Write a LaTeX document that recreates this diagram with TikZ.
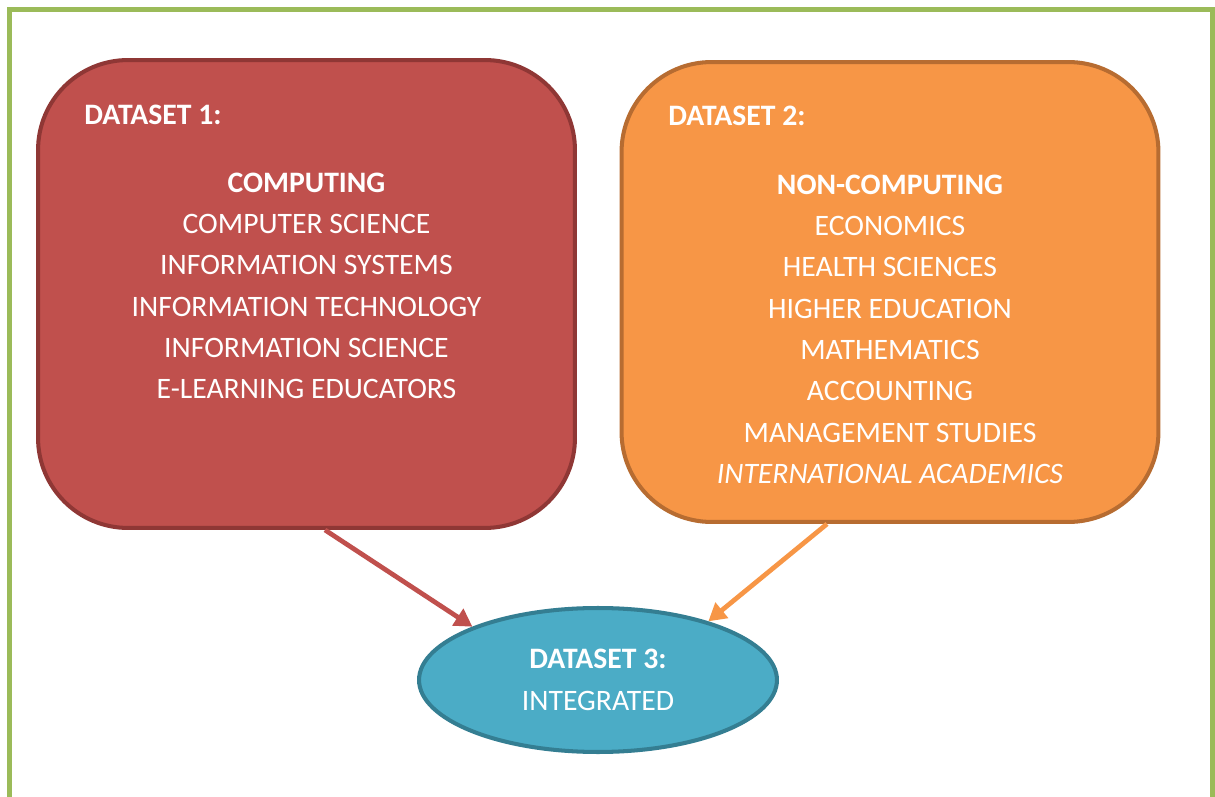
\documentclass[tikz,border=0pt]{standalone}
\usepackage{fontspec}
\setmainfont{Carlito}
\usepackage{tikz}
\usetikzlibrary{arrows.meta,shapes,positioning}
\usepackage{xcolor}
\definecolor{dsframe}{RGB}{155,187,89}
\definecolor{dsred}{RGB}{192,80,77}
\definecolor{dsdarkred}{RGB}{143,55,53}
\definecolor{dsorange}{RGB}{247,150,70}
\definecolor{dsdarkorange}{RGB}{183,108,49}
\definecolor{dsblue}{RGB}{75,172,198}
\definecolor{dsdarkblue}{RGB}{52,126,146}
\tikzstyle{dsbox} = [rectangle, rounded corners=1.8cm, line width=2.3pt, minimum width=10.74cm, inner sep=0pt]
\tikzstyle{dstext} = [text=white, inner sep=0pt, font=\fontsize{16.9}{23.5}\selectfont]
\tikzstyle{dsarrow} = [line width=2.7pt, -{Triangle[length=10pt,width=11pt]}]

\begin{document}
\begin{tikzpicture}[x=0.02cm, y=-0.02cm]
\useasboundingbox (0,0) rectangle (1215,797);
% outer frame
\draw[dsframe, line width=2.3pt] (9.5,797) -- (9.5,9.5) -- (1212.5,9.5) -- (1212.5,797);

% dataset boxes
\node[dsbox, draw=dsdarkred, fill=dsred, minimum height=9.36cm] (ds1) at (306.5,294) {};
\node[dsbox, draw=dsdarkorange, fill=dsorange, minimum height=9.2cm] (ds2) at (890,292) {};

\node[dstext, anchor=west, font=\fontsize{16.9}{23.5}\selectfont\bfseries] (ds1title) at (84,115) {DATASET 1:};
\node[dstext, anchor=north, align=center] (ds1list) at (306.5,172.5) {\textbf{COMPUTING}\\
  COMPUTER SCIENCE\\
  INFORMATION SYSTEMS\\
  INFORMATION TECHNOLOGY\\
  INFORMATION SCIENCE\\
  E-LEARNING EDUCATORS};

\node[dstext, anchor=west, font=\fontsize{16.9}{23.5}\selectfont\bfseries] (ds2title) at (668,116) {DATASET 2:};
\node[dstext, anchor=north, align=center] (ds2list) at (890,174.5) {\textbf{NON-COMPUTING}\\
  ECONOMICS\\
  HEALTH SCIENCES\\
  HIGHER EDUCATION\\
  MATHEMATICS\\
  ACCOUNTING\\
  MANAGEMENT STUDIES\\
  \textit{INTERNATIONAL ACADEMICS}};

% integrated dataset
\node[ellipse, draw=dsdarkblue, fill=dsblue, line width=2.3pt, minimum width=7.16cm, minimum height=2.88cm,
  text=white, align=center, font=\fontsize{16.9}{23.5}\selectfont] (ds3) at (598,680) {\textbf{DATASET 3:}\\INTEGRATED};

\draw[dsarrow, dsred] ([xshift=0.37cm]ds1.south) -- (ds3.157);
\draw[dsarrow, dsorange] ([xshift=-1.26cm]ds2.south) -- (ds3.28);
\end{tikzpicture}
\end{document}
